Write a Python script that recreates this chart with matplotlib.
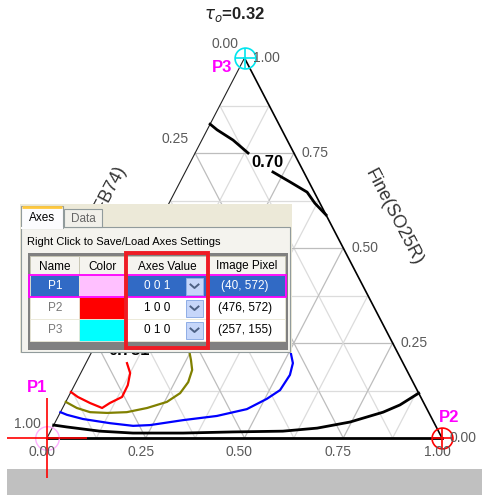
import matplotlib.pyplot as plt
from matplotlib.patches import Rectangle
import numpy as np

plt.rcParams['font.family'] = ['Liberation Sans', 'DejaVu Sans']

# axis ticks
tick_values = [0.0, 0.25, 0.5, 0.75, 1.0]
tick_labels = ['0.00', '0.25', '0.50', '0.75', '1.00']
grid_steps = np.arange(1, 8) / 8.0

# contour lines, ternary (a, b) with c = 1 - a - b
# a = 1 at bottom right, b = 1 at top, c = 1 at bottom left
c070_a1 = [0.000, 0.025, 0.079, 0.134]
c070_b1 = [0.826, 0.811, 0.784, 0.750]
c070_a2 = [0.222, 0.278, 0.335, 0.369, 0.413]
c070_b2 = [0.700, 0.674, 0.647, 0.618, 0.587]

red_a = [0.104, 0.125, 0.135, 0.136, 0.113, 0.100, 0.063, 0.024, 0.000]
red_b = [0.197, 0.171, 0.139, 0.108, 0.092, 0.079, 0.092, 0.108, 0.121]

olive_a = [0.238, 0.262, 0.278, 0.284, 0.278, 0.256, 0.214, 0.168, 0.119, 0.075, 0.036, 0.000]
olive_b = [0.240, 0.205, 0.179, 0.147, 0.118, 0.095, 0.079, 0.068, 0.066, 0.068, 0.079, 0.095]

blue_a = [0.494, 0.524, 0.532, 0.527, 0.505, 0.468, 0.401, 0.321, 0.244, 0.202, 0.140, 0.066, 0.020, 0.000]
blue_b = [0.240, 0.197, 0.166, 0.126, 0.103, 0.076, 0.058, 0.047, 0.034, 0.032, 0.039, 0.050, 0.061, 0.068]

low_a = [0.000, 0.036, 0.125, 0.211, 0.338, 0.463, 0.588, 0.671, 0.746, 0.817, 0.850, 0.882]
low_b = [0.034, 0.029, 0.018, 0.013, 0.013, 0.016, 0.018, 0.026, 0.042, 0.068, 0.087, 0.118]

# dialog table
headers = ['Name', 'Color', 'Axes Value', 'Image Pixel']
names = ['P1', 'P2', 'P3']
swatches = ['#FFC0FF', '#FF0000', '#00FFFF']
axes_values = ['0 0 1', '1 0 0', '0 1 0']
image_pixels = ['(40, 572)', '(476, 572)', '(257, 155)']


def tern(a, b):
    a = np.asarray(a, dtype=float)
    b = np.asarray(b, dtype=float)
    return a + b / 2.0, b


fig = plt.figure(figsize=(4.82, 5.0), dpi=100)

# grey strip at the bottom (behind the plot)
bg = fig.add_axes([0, 0, 1, 1], zorder=0)
bg.set_xlim(0, 482)
bg.set_ylim(500, 0)
bg.axis('off')
bg.add_patch(Rectangle((7, 469), 475, 26, facecolor='#C0C0C0', edgecolor='none'))

ax = fig.add_axes([47 / 482, 62 / 500, 395 / 482, 380 / 500], zorder=1)
ax.set_xlim(0, 1)
ax.set_ylim(0, 1)
ax.axis('off')

# grid
for k, t in enumerate(grid_steps):
    col = '#bdbdbd' if k % 2 == 1 else '#dcdcdc'
    ax.plot(*tern([0, 1 - t], [t, t]), color=col, lw=0.9, clip_on=False)
    ax.plot(*tern([t, t], [0, 1 - t]), color=col, lw=0.9, clip_on=False)
    ax.plot(*tern([1 - t, 0], [0, 1 - t]), color=col, lw=0.9, clip_on=False)

# triangle edges
ax.plot(*tern([0, 0], [0, 1]), color='#222222', lw=0.8, clip_on=False)
ax.plot(*tern([1, 0], [0, 1]), color='black', lw=1.2, clip_on=False)
ax.plot(*tern([0, 1], [0, 0]), color='black', lw=2.0, clip_on=False)

# tick labels
lab = dict(fontsize=10, color='#5a5a5a', textcoords='offset pixels', va='center')
for v, s in zip(tick_values, tick_labels):
    ax.annotate(s, tern(v, 0), xytext=(-5, -14), ha='center', **lab)
    ax.annotate(s, tern(1 - v, v), xytext=(8, 0), ha='left', **lab)
    ax.annotate(s, tern(0, 1 - v), xytext=(-6, 14), ha='right', **lab)

# axis titles
ax.annotate('Fine(SO25R)', tern(0.5, 0.5), xytext=(50, 31), textcoords='offset pixels',
            rotation=-62.4, rotation_mode='anchor', ha='center', va='center',
            fontsize=13, color='#333333')
ax.annotate('Coarse(FB74)', tern(0, 0.5), xytext=(-50, 31), textcoords='offset pixels',
            rotation=62.4, rotation_mode='anchor', ha='center', va='center',
            fontsize=13, color='#333333')

# contours
ax.plot(*tern(c070_a1, c070_b1), color='black', lw=2.0, clip_on=False)
ax.plot(*tern(c070_a2, c070_b2), color='black', lw=2.0, clip_on=False)
ax.plot(*tern(low_a, low_b), color='black', lw=2.0, clip_on=False)
ax.plot(*tern(blue_a, blue_b), color='#0000FF', lw=1.6, clip_on=False)
ax.plot(*tern(olive_a, olive_b), color='#808000', lw=1.6, clip_on=False)
ax.plot(*tern(red_a, red_b), color='#FF0000', lw=1.6, clip_on=False)
ax.text(*tern(0.196, 0.726), '0.70', fontsize=12, fontweight='bold', ha='center', va='center')
ax.text(*tern(0.094, 0.229), '0.781', fontsize=12, fontweight='bold', ha='center', va='center')

# calibration points
ax.plot(*tern(0, 0), marker='o', ms=17, mfc='none', mec='#FFB0FF', mew=1.0, clip_on=False)
ax.plot(*tern(0, 0), marker='+', ms=58, mec='#FF0000', mew=1.2, clip_on=False)
ax.plot(*tern(1, 0), marker='o', ms=15, mfc='none', mec='#FF0000', mew=1.2, clip_on=False)
ax.plot(*tern(1, 0), marker='+', ms=15, mec='#FF0000', mew=1.2, clip_on=False)
ax.plot(*tern(0, 1), marker='o', ms=15, mfc='none', mec='#00E5EE', mew=1.2, clip_on=False)
ax.plot(*tern(0, 1), marker='+', ms=15, mec='#00E5EE', mew=1.2, clip_on=False)
pk = dict(textcoords='offset pixels', fontsize=12, fontweight='bold', color='#FF00FF',
          ha='center', va='center')
ax.annotate('P1', tern(0, 0), xytext=(-10, 51), **pk)
ax.annotate('P2', tern(1, 0), xytext=(7, 21), **pk)
ax.annotate('P3', tern(0, 1), xytext=(-22, -10), **pk)

# title
fig.text(235 / 482, 1 - 14 / 500, r'$\tau_o$=0.32', fontsize=12, fontweight='bold',
         ha='center', va='center', color='#222222')

# dialog overlay
ov = fig.add_axes([0, 0, 1, 1], zorder=5)
ov.set_xlim(0, 482)
ov.set_ylim(500, 0)
ov.axis('off')

ov.add_patch(Rectangle((20, 204), 272, 149, facecolor='#ECE9D8', edgecolor='none'))
ov.add_patch(Rectangle((21, 227), 269, 125, facecolor='#F4F3EE', edgecolor='#919B9C', lw=0.8))
ov.add_patch(Rectangle((64, 209), 38, 18, facecolor='#F1F0EA', edgecolor='#919B9C', lw=0.8))
ov.text(83, 219, 'Data', fontsize=8.5, color='#666666', ha='center', va='center')
ov.add_patch(Rectangle((21, 206), 42, 22, facecolor='#FCFCFE', edgecolor='#919B9C', lw=0.8))
ov.plot([22, 62], [207, 207], color='#FFC83C', lw=2.0, solid_capstyle='butt')
ov.plot([22, 62], [228, 228], color='#FCFCFE', lw=1.5)
ov.text(42, 218, 'Axes', fontsize=8.5, color='black', ha='center', va='center')
ov.text(27, 242, 'Right Click to Save/Load Axes Settings', fontsize=8, ha='left', va='center')

# table
col_x = [30, 79, 126, 208, 285]
row_y = [256, 275, 297, 319, 341]
ov.add_patch(Rectangle((28, 253), 260, 97, facecolor='#808080', edgecolor='none'))
for i, h in enumerate(headers):
    ov.add_patch(Rectangle((col_x[i], row_y[0]), col_x[i + 1] - col_x[i], row_y[1] - row_y[0],
                           facecolor='#F5F4EF', edgecolor='#C7C5B2', lw=0.6))
    ov.text((col_x[i] + col_x[i + 1]) / 2, (row_y[0] + row_y[1]) / 2 + 1, h,
            fontsize=8.5, ha='center', va='center')

for r, (nm, sw, av, ip) in enumerate(zip(names, swatches, axes_values, image_pixels)):
    y0, y1 = row_y[r + 1], row_y[r + 2]
    cy = (y0 + y1) / 2
    sel = r == 0
    cell = '#316AC5' if sel else 'white'
    txt = 'white' if sel else 'black'
    for i in range(4):
        fc = sw if i == 1 else cell
        ov.add_patch(Rectangle((col_x[i], y0), col_x[i + 1] - col_x[i], y1 - y0,
                               facecolor=fc, edgecolor='#ECE9D8', lw=0.6))
    ov.text(55, cy, nm, fontsize=8.5, ha='center', va='center',
            color='white' if sel else '#777777')
    ov.text(157, cy, av, fontsize=8.5, ha='center', va='center', color=txt)
    ov.text(245, cy, ip, fontsize=8.5, ha='center', va='center', color=txt)
    ov.add_patch(Rectangle((186, y0 + 2.5), 17, y1 - y0 - 5, facecolor='#C6D6FA',
                           edgecolor='#8FAEE6', lw=0.7))
    ov.plot([190.5, 194.5, 198.5], [cy - 1.5, cy + 2.0, cy - 1.5], color='#4D6185', lw=1.4)

ov.add_patch(Rectangle((29, 275), 257, 22, facecolor='none', edgecolor='#FF00FF', lw=1.3))
ov.add_patch(Rectangle((126, 253), 82, 95, facecolor='none', edgecolor='#EE1C24', lw=2.8))

fig.savefig('out.png', dpi=100)
